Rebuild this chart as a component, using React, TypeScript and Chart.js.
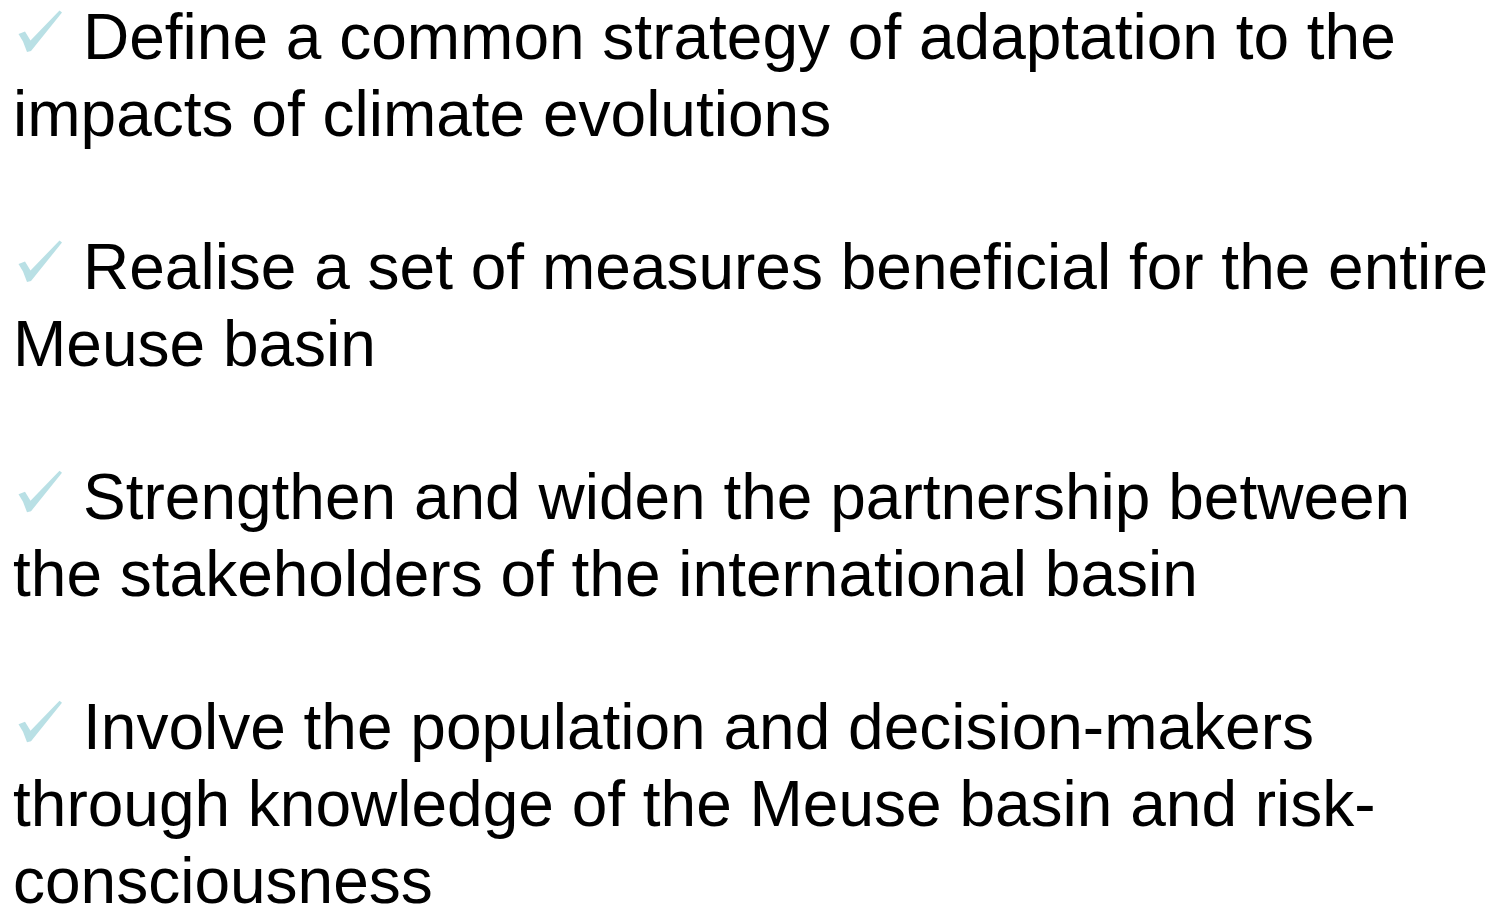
import React, { useEffect, useRef } from "react";
import { Chart, registerables } from "chart.js";

Chart.register(...registerables);

const bulletItems: string[][] = [
  ["Define a common strategy of adaptation to the", "impacts of climate evolutions"],
  ["Realise a set of measures beneficial for the entire", "Meuse basin"],
  ["Strengthen and widen the partnership between", "the stakeholders of the international basin"],
  ["Involve the population and decision-makers", "through knowledge of the Meuse basin and risk-", "consciousness"],
];

// check-mark bullet outline, relative to the first line's baseline (x, dy)
const checkShape: [number, number][] = [
  [18.5, -25], [25, -27.5], [30.5, -18.5], [59.5, -48.5], [62, -46.5],
  [31, -8], [27, -7], [23, -17.5],
];

const textPlugin = {
  id: "slideText",
  afterDraw(chart: any) {
    const ctx = chart.ctx as CanvasRenderingContext2D;
    ctx.save();
    ctx.fillStyle = "#ffffff";
    ctx.fillRect(0, 0, chart.width, chart.height);
    const lineH = 76.7;
    let baseline = 59;
    ctx.textBaseline = "alphabetic";
    const textFont = "64px 'Liberation Sans', Arial, sans-serif";
    bulletItems.forEach((lines) => {
      lines.forEach((line, i) => {
        if (i === 0) {
          ctx.fillStyle = "#b9e0e5";
          ctx.beginPath();
          checkShape.forEach(([x, dy], k) => {
            if (k === 0) ctx.moveTo(x, baseline + dy);
            else ctx.lineTo(x, baseline + dy);
          });
          ctx.closePath();
          ctx.fill();
          ctx.fillStyle = "#000000";
          ctx.font = textFont;
          ctx.fillText(line, 83, baseline);
        } else {
          ctx.fillStyle = "#000000";
          ctx.font = textFont;
          ctx.fillText(line, 13, baseline);
        }
        baseline += lineH;
      });
      baseline += lineH;
    });
    ctx.restore();
  },
};

export default function App() {
  const ref = useRef<HTMLCanvasElement | null>(null);
  useEffect(() => {
    if (!ref.current) return;
    const chart = new Chart(ref.current, {
      type: "bar",
      data: { labels: [], datasets: [] },
      options: {
        animation: false,
        responsive: true,
        maintainAspectRatio: false,
        layout: { padding: 0 },
        plugins: { legend: { display: false }, tooltip: { enabled: false } },
        scales: { x: { display: false }, y: { display: false } },
      },
      plugins: [textPlugin],
    });
    return () => chart.destroy();
  }, []);
  return (
    <div style={{ position: "absolute", left: 0, top: 0, width: 1502, height: 905, background: "#fff" }}>
      <canvas ref={ref} />
    </div>
  );
}
